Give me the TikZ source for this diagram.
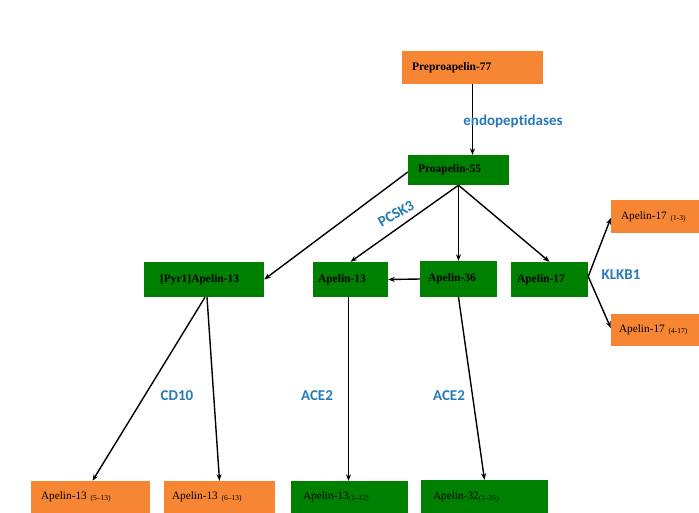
\documentclass[tikz,border=0pt]{standalone}
\usepackage{fontspec}
\setmainfont{Liberation Serif}
\newfontfamily\lblfont[Ligatures={NoCommon}]{Carlito}
\usetikzlibrary{arrows.meta}
\definecolor{pgreen}{RGB}{0,128,0}
\definecolor{porange}{RGB}{247,134,52}
\definecolor{pblue}{RGB}{38,122,184}
\newcommand{\rng}[1]{\raisebox{-1pt}{\fontsize{7.5}{9}\selectfont #1}}
\begin{document}
\begin{tikzpicture}[x=1pt,y=-1pt,
  box/.style={inner xsep=10pt, inner ysep=0pt, align=left, font=\fontsize{11.3}{13}\selectfont},
  gbox/.style={box, fill=pgreen},
  obox/.style={box, fill=porange},
  bt/.style={font=\fontsize{11.5}{13}\selectfont\bfseries},
  lbl/.style={text=pblue, inner sep=0pt, font=\lblfont\bfseries\fontsize{15}{17}\selectfont},
  arr/.style={draw=black, line width=1.4pt, -{Stealth[length=6.5pt,width=5pt]}}
]
\path[use as bounding box, fill=white] (0,0) rectangle (699,512);

\node[obox, bt, text width=121pt, minimum height=33pt] (pre) at (472.5,67.5) {Preproapelin-77};
\node[gbox, bt, text width=81pt, minimum height=30pt] (pro) at (458.5,170) {Proapelin-55};

\node[gbox, bt, inner xsep=16pt, text width=88pt, minimum height=35pt] (pyr) at (204,279.5) {[Pyr1]Apelin-13};
\node[gbox, bt, inner xsep=5pt, text width=65pt, minimum height=35pt] (a13) at (350.5,279.5) {Apelin-13};
\node[gbox, bt, inner xsep=8pt, text width=61pt, minimum height=36pt] (a36) at (458.5,279) {Apelin-36};
\node[gbox, bt, inner xsep=6pt, text width=65pt, minimum height=35pt] (a17) at (549.5,279.5) {Apelin-17};

\node[obox, inner xsep=10pt, text width=68pt, minimum height=33pt] (a171) at (655,216.5) {Apelin-17 \rng{(1-3)}};
\node[obox, inner xsep=8pt, text width=72pt, minimum height=32pt] (a172) at (655,330) {Apelin-17 \rng{(4-17)}};

\node[obox, text width=99pt, minimum height=32pt] (b1) at (90.5,497) {Apelin-13 \rng{(5--13)}};
\node[obox, inner xsep=8pt, text width=95pt, minimum height=32pt] (b2) at (219.5,497) {Apelin-13 \rng{(6--13)}};
\node[gbox, inner xsep=12pt, text width=93pt, minimum height=32pt] (b3) at (349.5,497) {Apelin-13\rng{(1--12)}};
\node[gbox, inner xsep=12pt, text width=103pt, minimum height=33pt] (b4) at (484.5,496.5) {Apelin-32\rng{(1--35)}};

\draw[arr] (pre.south) -- (pre.south |- pro.north);
\draw[arr] ([yshift=-2pt]pro.west) -- (pyr.east);
\draw[arr] (pro.south) -- (a13.north);
\draw[arr] (pro.south) -- (a36.north);
\draw[arr] (pro.south) -- (a17.north);
\draw[arr] (a36.west) -- (a13.east);
\draw[arr] ([yshift=3pt]a17.east) -- ([yshift=-1.5pt]a171.west);
\draw[arr] ([yshift=3pt]a17.east) -- ([yshift=2pt]a172.west);
\draw[arr] ([xshift=1pt]pyr.south) -- ([xshift=2pt]b1.north);
\draw[arr] ([xshift=3pt]pyr.south) -- (b2.north);
\draw[arr] ([xshift=-2pt]a13.south) -- ([xshift=-1pt]b3.north);
\draw[arr] (a36.south) -- (b4.north);

\node[lbl] (l1) at (513,121) {endopeptidases};
\node[lbl, rotate=30] (l2) at (396,214) {PCSK3};
\node[lbl] (l3) at (621,275) {KLKB1};
\node[lbl] (l4) at (177,396) {CD10};
\node[lbl] (l5) at (317,396) {ACE2};
\node[lbl] (l6) at (449,396) {ACE2};
\end{tikzpicture}
\end{document}
